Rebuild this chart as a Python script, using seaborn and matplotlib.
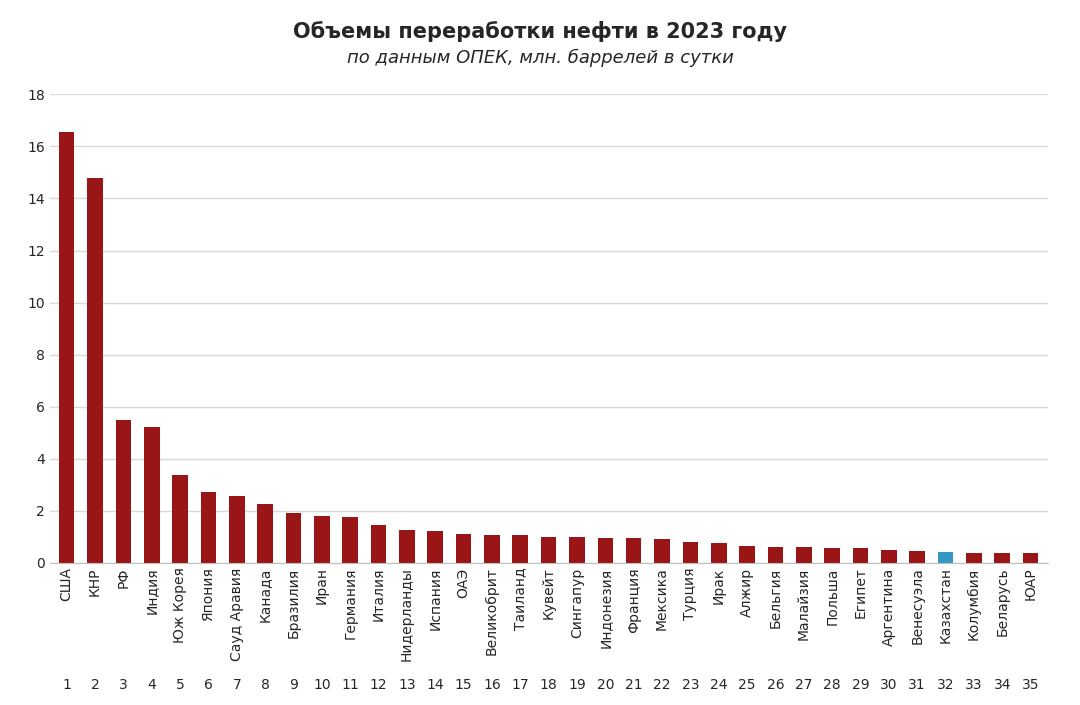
import matplotlib
matplotlib.use("Agg")
import matplotlib.pyplot as plt
import matplotlib.transforms as mtransforms
import seaborn as sns
import pandas as pd

countries = ["США","КНР","РФ","Индия","Юж Корея","Япония","Сауд Аравия","Канада","Бразилия","Иран",
             "Германия","Италия","Нидерланды","Испания","ОАЭ","Великобрит","Таиланд","Кувейт","Сингапур","Индонезия",
             "Франция","Мексика","Турция","Ирак","Алжир","Бельгия","Малайзия","Польша","Египет","Аргентина",
             "Венесуэла","Казахстан","Колумбия","Беларусь","ЮАР"]
values = [16.55,14.8,5.5,5.2,3.35,2.7,2.55,2.25,1.9,1.8,
          1.75,1.45,1.25,1.2,1.1,1.05,1.05,1.0,1.0,0.95,
          0.95,0.9,0.8,0.75,0.65,0.6,0.6,0.55,0.55,0.5,
          0.45,0.4,0.35,0.35,0.35]
highlight = "Казахстан"

sns.set_style("white")
plt.rcParams['font.family'] = ['DejaVu Sans']
df = pd.DataFrame({"country": countries, "value": values})
df["grp"] = ["hl" if c == highlight else "base" for c in countries]

fig, ax = plt.subplots(figsize=(10.8, 7.05), dpi=100)
fig.subplots_adjust(left=0.046, right=0.97, top=0.866, bottom=0.202)
sns.barplot(data=df, x="country", y="value", hue="grp",
            palette={"base": "#B00000", "hl": "#1AA3DC"}, width=0.55,
            edgecolor="none", legend=False, dodge=False, ax=ax)
ax.set_ylim(0, 18)
ax.set_yticks(range(0, 19, 2))
ax.yaxis.grid(True, color="#D9D9D9", linewidth=1)
ax.set_axisbelow(True)
for s in ["top", "right", "left"]:
    ax.spines[s].set_visible(False)
ax.spines["bottom"].set_color("#BFBFBF")
ax.set_xlabel(""); ax.set_ylabel("")
ax.tick_params(axis="x", rotation=90, labelsize=10, length=0)
ax.tick_params(axis="y", labelsize=10, length=0)
ax.set_xlim(-0.6, len(countries) - 0.4)
trans = mtransforms.blended_transform_factory(ax.transData, fig.transFigure)
for i in range(len(countries)):
    ax.text(i, 0.028, str(i + 1), transform=trans, ha="center", va="center", fontsize=10)
fig.text(0.5, 0.955, "Объемы переработки нефти в 2023 году", ha="center", va="center",
         fontsize=15, fontweight="bold")
fig.text(0.5, 0.918, "по данным ОПЕК, млн. баррелей в сутки", ha="center", va="center",
         fontsize=13, style="italic")
fig.savefig("out.png", dpi=100)
